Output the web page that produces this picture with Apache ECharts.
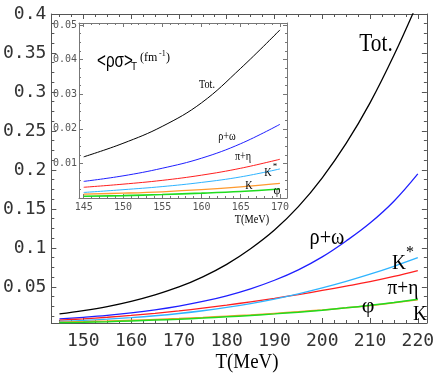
<!DOCTYPE html>
<html><head><meta charset="utf-8">
<script src="https://cdn.jsdelivr.net/npm/echarts@6/dist/echarts.min.js"></script>
<style>html,body{margin:0;padding:0;background:#fff}#c{width:437px;height:381px}</style>
</head><body><div id="c"></div>
<script>
// ---------- data (main plot) ----------
const T = [145,150,155,160,165,170,175,180,185,190,195,200,205,210,215,220];
const mainTot      = [0.0154,0.0196,0.0248,0.0315,0.0398,0.0500,0.0630,0.0790,0.0990,0.1230,0.1530,0.1900,0.2340,0.2860,0.3470,0.4150];
const mainRhoOmega = [0.0090,0.0111,0.0136,0.0168,0.0207,0.0255,0.0314,0.0387,0.0476,0.0586,0.0720,0.0886,0.1090,0.1320,0.1600,0.1950];
const mainPiEta    = [0.0075,0.0092,0.0112,0.0135,0.0162,0.0193,0.0228,0.0267,0.0310,0.0355,0.0403,0.0455,0.0510,0.0568,0.0635,0.0710];
const mainKstar    = [0.0058,0.0071,0.0087,0.0107,0.0131,0.0160,0.0195,0.0237,0.0287,0.0345,0.0412,0.0488,0.0572,0.0664,0.0765,0.0875];
const mainK        = [0.0048,0.0055,0.0063,0.0072,0.0083,0.0095,0.0109,0.0125,0.0142,0.0161,0.0182,0.0206,0.0233,0.0263,0.0297,0.0335];
const mainPhi      = [0.0040,0.0047,0.0055,0.0064,0.0075,0.0087,0.0101,0.0117,0.0135,0.0155,0.0177,0.0203,0.0232,0.0265,0.0302,0.0343];
// ---------- data (inset) ----------
const insetT        = [145,150,155,160,165,170];
const insetTot      = [0.0119,0.0158,0.0207,0.0275,0.0375,0.0486];
const insetRhoOmega = [0.0048,0.0064,0.0086,0.0115,0.0157,0.0213];
const insetPiEta    = [0.0031,0.0040,0.0051,0.0066,0.0086,0.0112];
const insetKstar    = [0.0016,0.0024,0.0033,0.0045,0.0061,0.0084];
const insetK        = [0.0011,0.0014,0.0018,0.0024,0.0032,0.0042];
const insetPhi      = [0.0005,0.0007,0.0010,0.0014,0.0019,0.0026];
// ---------- ticks ----------
const mainXTicks = [150,160,170,180,190,200,210,220];
const mainYTicks = [0.05,0.1,0.15,0.2,0.25,0.3,0.35,0.4];
const insetXTicks = [145,150,155,160,165,170];
const insetYTicks = [0.01,0.02,0.03,0.04,0.05];

function minorsOf(majors, sub, lo, hi){
  const step = (majors[1]-majors[0])/sub, out=[];
  for(let v=majors[0]-step*sub; v<=majors[majors.length-1]+step*sub+1e-9; v+=step){
    const r = Math.round(v*1e6)/1e6;
    if(r>lo && r<hi && !majors.some(m=>Math.abs(m-r)<1e-9)) out.push(r);
  }
  return out;
}
const MAIN = {xmin:143.3,xmax:221.9,ymin:0.0038,ymax:0.4};
const INS = {xmin:144.4,xmax:170.9,ymin:0,ymax:0.0506};
const frameMain = '#555', frameIns = '#777';

function axisSet(dim, grid, rng, majors, minors, opt){
  const axes=[];
  const lo = dim==='x'?rng.xmin:rng.ymin, hi = dim==='x'?rng.xmax:rng.ymax;
  const pos = dim==='x'?['bottom','top']:['left','right'];
  pos.forEach((p,k)=>{
    axes.push({type:'value',gridIndex:grid,position:p,min:lo,max:hi,
      axisLine:{show:true,onZero:false,lineStyle:{color:opt.color,width:1}},
      axisTick:{show:true,inside:true,length:opt.major,customValues:majors,lineStyle:{color:opt.color}},
      axisLabel:{show:k===0,customValues:majors,formatter:v=>String(v),margin:opt.margin,
        fontFamily:'DejaVu Sans Mono',fontSize:opt.fs,color:opt.lc},
      splitLine:{show:false}});
    axes.push({type:'value',gridIndex:grid,position:p,min:lo,max:hi,
      axisLine:{show:false,onZero:false},
      axisTick:{show:true,inside:true,length:opt.minor,customValues:minors,lineStyle:{color:opt.color}},
      axisLabel:{show:false},splitLine:{show:false}});
  });
  return axes;
}
const xAxes = [
  ...axisSet('x',0,MAIN,mainXTicks,minorsOf(mainXTicks,4,MAIN.xmin,MAIN.xmax),{color:frameMain,major:5,minor:3,margin:9,fs:18,lc:'#333'}),
  ...axisSet('x',1,INS,insetXTicks,minorsOf(insetXTicks,5,INS.xmin,INS.xmax),{color:frameIns,major:4,minor:2,margin:4,fs:10,lc:'#555'})
];
const yAxes = [
  ...axisSet('y',0,MAIN,mainYTicks,minorsOf(mainYTicks,4,MAIN.ymin,MAIN.ymax),{color:frameMain,major:5,minor:3,margin:5,fs:18,lc:'#333'}),
  ...axisSet('y',1,INS,insetYTicks,minorsOf(insetYTicks,4,INS.ymin,INS.ymax),{color:frameIns,major:4,minor:2,margin:2,fs:10,lc:'#555'})
];

const colors = {tot:'#000000',rho:'#1f1fff',pi:'#ff1f1f',ks:'#2fb4ff',k:'#ff9a2e',phi:'#1fdc1f'};
function ser(xs, ys, color, axIdx, w){
  return {type:'line',xAxisIndex:axIdx,yAxisIndex:axIdx,data:xs.map((t,i)=>[t,ys[i]]),
    smooth:0.4,symbol:'none',lineStyle:{color:color,width:w},silent:true,animation:false};
}
const series = [
  ser(T,mainTot,colors.tot,0,1.3), ser(T,mainRhoOmega,colors.rho,0,1.3),
  ser(T,mainPiEta,colors.pi,0,1.3), ser(T,mainKstar,colors.ks,0,1.3),
  ser(T,mainK,colors.k,0,1.5), ser(T,mainPhi,colors.phi,0,1.5),
  ser(insetT,insetTot,colors.tot,4,1), ser(insetT,insetRhoOmega,colors.rho,4,1),
  ser(insetT,insetPiEta,colors.pi,4,1), ser(insetT,insetKstar,colors.ks,4,1),
  ser(insetT,insetK,colors.k,4,1.3), ser(insetT,insetPhi,colors.phi,4,1.6)
];

function txt(x,y,s,size,opts){
  opts=opts||{};
  return {type:'text',x:x,y:y,scaleX:opts.sx||1,z:100,silent:true,
    style:{text:s,x:0,y:0,align:opts.align||'center',verticalAlign:'middle',
      font:(opts.style||'')+' '+size+'px '+(opts.family||'"Liberation Serif"'),fill:opts.fill||'#000'}};
}
const graphics = [
  txt(247,362,'T(MeV)',22,{sx:0.86}),
  txt(376,44,'Tot.',26,{sx:0.82}),
  txt(327,238,'ρ+ω',23,{sx:0.88}),
  txt(399,263,'K',22,{sx:0.88}), txt(410,253,'*',16),
  txt(403,288,'π+η',22,{sx:0.88}),
  txt(368,306,'φ',22),
  txt(420,314,'K',22,{sx:0.88}),
  // inset
  txt(252,220,'T(MeV)',12,{sx:0.86}),
  txt(207,85,'Tot.',12,{sx:0.85}),
  txt(227,137,'ρ+ω',12,{sx:0.85}),
  txt(243,157,'π+η',12,{sx:0.85}),
  txt(268,173,'K',12,{sx:0.85}), txt(275,167,'*',9),
  txt(249,186,'K',12,{sx:0.85}),
  txt(277,191,'φ',12),
  txt(97,61,'<ρσ>',20,{align:'left',family:'"Liberation Sans"',sx:0.76}),
  txt(134,67,'T',10,{family:'"Liberation Sans"'}),
  txt(140,58,'(fm',12,{align:'left'}),
  txt(159,54,'-1',8,{align:'left'}),
  txt(166,58,')',12,{align:'left'})
];

const chart = echarts.init(document.getElementById('c'),null,{renderer:'canvas'});
chart.setOption({
  backgroundColor:'#fff',animation:false,
  grid:[{left:49,top:14,width:379,height:309},{left:79,top:23,width:208,height:175}],
  xAxis:xAxes,yAxis:yAxes,series:series,graphic:graphics
});
</script></body></html>
